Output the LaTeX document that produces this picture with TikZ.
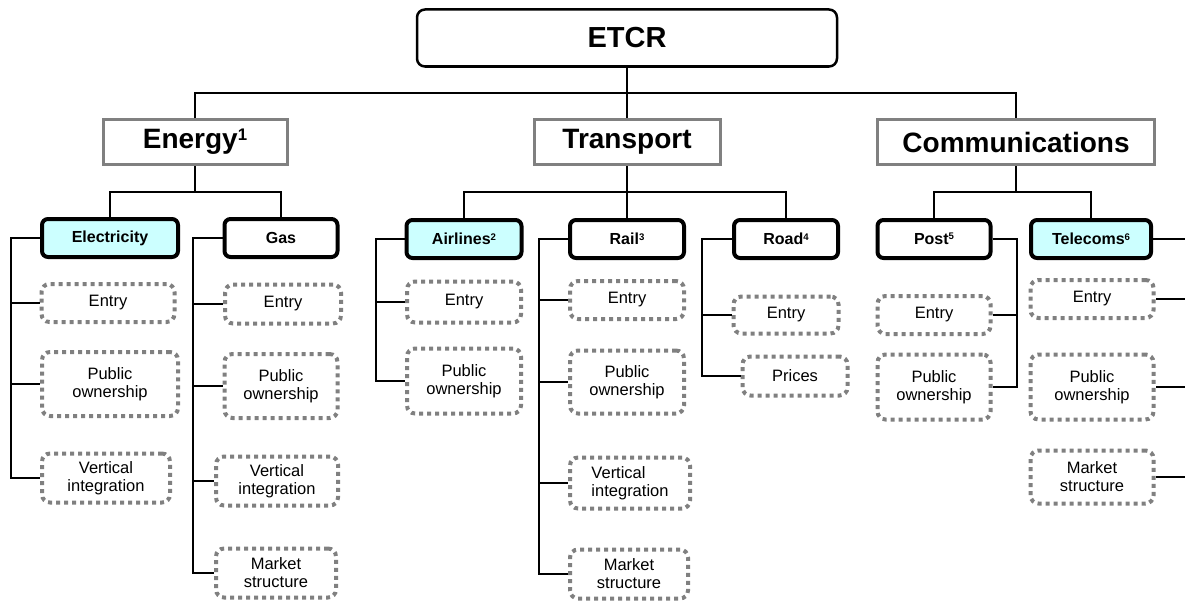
\documentclass[tikz,border=0pt]{standalone}
\usepackage{fontspec}
\setmainfont{Liberation Sans}
\definecolor{lightcyan}{HTML}{CCFFFF}
\definecolor{boxgray}{HTML}{808080}
\newcommand{\supnum}[1]{\raisebox{0.29em}{\scalebox{0.6}{#1}}}
\begin{document}
\begin{tikzpicture}[x=1pt,y=-1pt,
	top/.style={draw,line width=2.5pt,rounded corners=8pt,minimum width=420pt,minimum height=57pt,font=\bfseries\fontsize{29}{32}\selectfont},
	sector/.style={draw=boxgray,line width=3pt,minimum height=45pt,font=\bfseries\fontsize{28}{32}\selectfont},
	industry/.style={draw,line width=4pt,rounded corners=6pt,minimum height=38pt,font=\bfseries\fontsize{16}{18}\selectfont},
	item/.style={draw=boxgray,line width=4pt,dash pattern=on 4pt off 4pt,rounded corners=8pt,align=center,font=\fontsize{16.5}{18}\selectfont},
	link/.style={line width=1.3pt}]
	\useasboundingbox (0,0) rectangle (1185,602);
	\node[top] (etcr) at (627,38) {ETCR};
	\node[sector,minimum width=184pt] (energy) at (195,142) {Energy\supnum{1}};
	\node[sector,minimum width=186pt] (transport) at (627,142) {Transport};
	\node[sector,minimum width=277pt] (comms) at (1016,142) {Communications};
	\node[industry,fill=lightcyan,minimum width=136pt] (elec) at (110,238) {Electricity};
	\node[industry,minimum width=113pt] (gas) at (281,238) {Gas};
	\node[industry,fill=lightcyan,minimum width=115pt] (air) at (464,239) {Airlines\supnum{2}};
	\node[industry,minimum width=114pt] (rail) at (627,239) {Rail\supnum{3}};
	\node[industry,minimum width=104pt] (road) at (786,239) {Road\supnum{4}};
	\node[industry,minimum width=113pt] (post) at (934,239) {Post\supnum{5}};
	\node[industry,fill=lightcyan,minimum width=120pt] (tele) at (1091,239) {Telecoms\supnum{6}};
	\node[item,minimum width=133pt,minimum height=38pt] (elecentry) at (108,303) {Entry};
	\node[item,minimum width=136pt,minimum height=64pt] (elecpub) at (110,384) {Public\\ownership};
	\node[item,minimum width=128pt,minimum height=49pt] (elecvert) at (106,478) {Vertical\\integration};
	\node[item,minimum width=116pt,minimum height=39pt] (gasentry) at (283,304) {Entry};
	\node[item,minimum width=113pt,minimum height=64pt] (gaspub) at (281,386) {Public\\ownership};
	\node[item,minimum width=122pt,minimum height=49pt] (gasvert) at (277,481) {Vertical\\integration};
	\node[item,minimum width=120pt,minimum height=49pt] (gasmarket) at (276,573) {Market\\structure};
	\node[item,minimum width=114pt,minimum height=41pt] (airentry) at (464,302) {Entry};
	\node[item,minimum width=114pt,minimum height=65pt] (airpub) at (464,381) {Public\\ownership};
	\node[item,minimum width=114pt,minimum height=38pt] (railentry) at (627,300) {Entry};
	\node[item,minimum width=114pt,minimum height=63pt] (railpub) at (627,382) {Public\\ownership};
	\node[item,align=left,minimum width=120pt,minimum height=51pt] (railvert) at (630,483) {Vertical\\integration};
	\node[item,minimum width=118pt,minimum height=49pt] (railmarket) at (629,574) {Market\\structure};
	\node[item,minimum width=105pt,minimum height=37pt] (roadentry) at (786,315) {Entry};
	\node[item,minimum width=105pt,minimum height=39pt] (roadprices) at (795,376) {Prices};
	\node[item,minimum width=113pt,minimum height=38pt] (postentry) at (934,315) {Entry};
	\node[item,minimum width=113pt,minimum height=65pt] (postpub) at (934,387) {Public\\ownership};
	\node[item,minimum width=123pt,minimum height=38pt] (teleentry) at (1092,299) {Entry};
	\node[item,minimum width=123pt,minimum height=65pt] (telepub) at (1092,387) {Public\\ownership};
	\node[item,minimum width=123pt,minimum height=53pt] (telemarket) at (1092,477) {Market\\structure};
	\coordinate (b0) at (627,93);
	\coordinate (bEnergy) at (195,192);
	\coordinate (bTransport) at (627,192);
	\coordinate (bComms) at (1016,192);
	\draw[link] (etcr) -- (b0);
	\draw[link] (energy) |- (b0) -| (comms);
	\draw[link] (b0) -- (transport);
	\draw[link] (energy) -- (bEnergy);
	\draw[link] (elec) |- (bEnergy) -| (gas);
	\draw[link] (air) |- (bTransport) -| (road);
	\draw[link] (transport) -- (rail);
	\draw[link] (comms) -- (bComms);
	\draw[link] (post) |- (bComms) -| (tele);
	\coordinate (sElec) at (11,238);
	\coordinate (sGas) at (193,238);
	\coordinate (sAir) at (376,239);
	\coordinate (sRail) at (539,239);
	\coordinate (sRoad) at (702,239);
	\coordinate (sPost) at (1017,239);
	\coordinate (sTele) at (1200,239);
	\draw[link] (elec) -- (sElec) |- (elecvert);
	\foreach \n in {elecentry,elecpub} \draw[link] (sElec |- \n.west) -- (\n);
	\draw[link] (gas) -- (sGas) |- (gasmarket);
	\foreach \n in {gasentry,gaspub,gasvert} \draw[link] (sGas |- \n.west) -- (\n);
	\draw[link] (air) -- (sAir) |- (airpub);
	\draw[link] (sAir |- airentry.west) -- (airentry);
	\draw[link] (rail) -- (sRail) |- (railmarket);
	\foreach \n in {railentry,railpub,railvert} \draw[link] (sRail |- \n.west) -- (\n);
	\draw[link] (road) -- (sRoad) |- (roadprices);
	\draw[link] (sRoad |- roadentry.west) -- (roadentry);
	\draw[link] (post) -- (sPost) |- (postpub);
	\draw[link] (sPost |- postentry.east) -- (postentry);
	\draw[link] (tele) -- (sTele) |- (telemarket);
	\foreach \n in {teleentry,telepub} \draw[link] (sTele |- \n.east) -- (\n);
\end{tikzpicture}
\end{document}
